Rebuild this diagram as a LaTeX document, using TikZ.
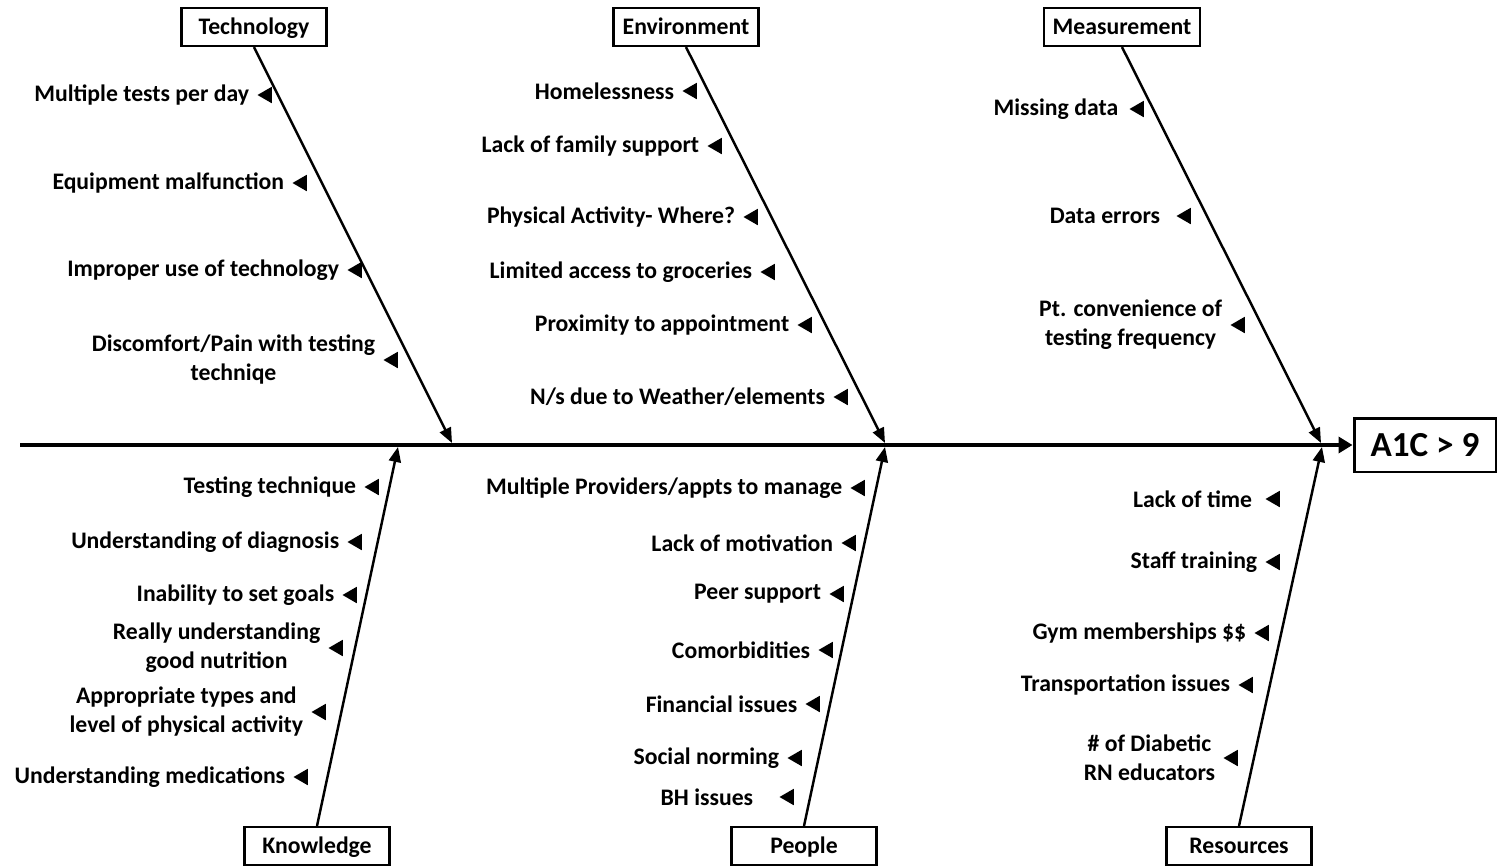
\documentclass[tikz,border=0pt]{standalone}
\usepackage{fontspec}
\setmainfont{Carlito}
\usetikzlibrary{positioning,shapes.geometric,arrows.meta}

\tikzset{
  bone/.style={line width=1.4pt, -{Triangle[length=0.3cm,width=0.24cm]}},
  category/.style={draw, line width=1.2pt, minimum width=2.9cm, minimum height=0.76cm,
    inner xsep=0.17cm, text height=10pt, text depth=2pt,
    font=\fontsize{13.5}{16.5}\selectfont\bfseries},
  cause/.style={align=center, inner sep=0pt, font=\fontsize{13.5}{16.5}\selectfont\bfseries},
  marker/.style={regular polygon, regular polygon sides=3, shape border rotate=90,
    fill, inner sep=0pt, outer sep=0pt, minimum size=0.38cm},
}

\begin{document}
\begin{tikzpicture}[x=0.02cm, y=-0.02cm, node distance=0.16cm]
\useasboundingbox (0,0) rectangle (1499,866);

% effect and spine
\node[draw, line width=1.7pt, minimum width=2.84cm, minimum height=1.08cm,
  font=\fontsize{20}{24}\selectfont\bfseries] (a1c) at (1425,445) {A1C > 9};
\coordinate (tail) at (20,445);
\draw[line width=2.6pt, -{Triangle[length=0.28cm,width=0.32cm]}] (tail) -- (a1c.west);

% categories
\node[category] (tech) at (254,27) {Technology};
\node[category] (env) at (686,27) {Environment};
\node[category] (meas) at (1122,27) {Measurement};
\node[category] (know) at (317,846) {Knowledge};
\node[category] (people) at (804,846) {People};
\node[category] (res) at (1239,846) {Resources};

\coordinate (jT) at (452,443);
\coordinate (jE) at (885,443);
\coordinate (jM) at (1321,443);
\coordinate (jK) at (398,447);
\coordinate (jP) at (885,447);
\coordinate (jR) at (1322,447);

\draw[bone] (tech.south) -- (jT);
\draw[bone] (env.south) -- (jE);
\draw[bone] (meas.south) -- (jM);
\draw[bone] (know.north) -- (jK);
\draw[bone] (people.north) -- (jP);
\draw[bone] (res.north) -- (jR);

% Technology
\node[marker] (mT1) at (267,95) {};
\node[cause, left=of mT1] (cT1) {Multiple tests per day};
\node[marker] (mT2) at (302,183) {};
\node[cause, left=of mT2] (cT2) {Equipment malfunction};
\node[marker] (mT3) at (357,270) {};
\node[cause, left=of mT3] (cT3) {Improper use of technology};
\node[marker] (mT4) at (393,360) {};
\node[cause, left=of mT4] (cT4) {Discomfort/Pain with testing\\techniqe};

% Environment
\node[marker] (mE1) at (692,91) {};
\node[cause, left=of mE1] (cE1) {Homelessness};
\node[marker] (mE2) at (717,146) {};
\node[cause, left=of mE2] (cE2) {Lack of family support};
\node[marker] (mE3) at (753,217) {};
\node[cause, left=of mE3] (cE3) {Physical Activity- Where?};
\node[marker] (mE4) at (770,272) {};
\node[cause, left=of mE4] (cE4) {Limited access to groceries};
\node[marker] (mE5) at (807,325) {};
\node[cause, left=of mE5] (cE5) {Proximity to appointment};
\node[marker] (mE6) at (843,397) {};
\node[cause, left=of mE6] (cE6) {N/s due to Weather/elements};

% Measurement
\node[marker] (mM1) at (1139,109) {};
\node[cause, left=0.22cm of mM1] (cM1) {Missing data};
\node[marker] (mM2) at (1186,216) {};
\node[cause, left=0.32cm of mM2] (cM2) {Data errors};
\node[marker] (mM3) at (1240,325) {};
\node[cause, left=of mM3] (cM3) {Pt. convenience of\\testing frequency};

% Knowledge
\node[marker] (mK1) at (374,487) {};
\node[cause, left=of mK1] (cK1) {Testing technique};
\node[marker] (mK2) at (357,542) {};
\node[cause, left=of mK2] (cK2) {Understanding of diagnosis};
\node[marker] (mK3) at (352,595) {};
\node[cause, left=of mK3] (cK3) {Inability to set goals};
\node[marker] (mK4) at (338,648) {};
\node[cause, left=of mK4] (cK4) {Really understanding\\good nutrition};
\node[marker] (mK5) at (321,712) {};
\node[cause, left=of mK5] (cK5) {Appropriate types and\\level of physical activity};
\node[marker] (mK6) at (303,777) {};
\node[cause, left=of mK6] (cK6) {Understanding medications};

% People
\node[marker] (mP1) at (860,488) {};
\node[cause, left=of mP1] (cP1) {Multiple Providers/appts to manage};
\node[marker] (mP2) at (851,543) {};
\node[cause, left=of mP2] (cP2) {Lack of motivation};
\node[marker] (mP3) at (839,594) {};
\node[cause, left=of mP3] (cP3) {Peer support};
\node[marker] (mP4) at (828,650) {};
\node[cause, left=of mP4] (cP4) {Comorbidities};
\node[marker] (mP5) at (815,704) {};
\node[cause, left=of mP5] (cP5) {Financial issues};
\node[marker] (mP6) at (797,758) {};
\node[cause, left=of mP6] (cP6) {Social norming};
\node[marker] (mP7) at (789,797) {};
\node[cause, left=0.52cm of mP7] (cP7) {BH issues};

% Resources
\node[marker] (mR1) at (1275,499) {};
\node[cause, left=0.26cm of mR1] (cR1) {Lack of time};
\node[marker] (mR2) at (1275,562) {};
\node[cause, left=of mR2] (cR2) {Staff training};
\node[marker] (mR3) at (1264,633) {};
\node[cause, left=of mR3] (cR3) {Gym memberships \$\$};
\node[marker] (mR4) at (1248,685) {};
\node[cause, left=of mR4] (cR4) {Transportation issues};
\node[marker] (mR5) at (1233,758) {};
\node[cause, left=of mR5] (cR5) {\# of Diabetic\\RN educators};
\end{tikzpicture}
\end{document}
